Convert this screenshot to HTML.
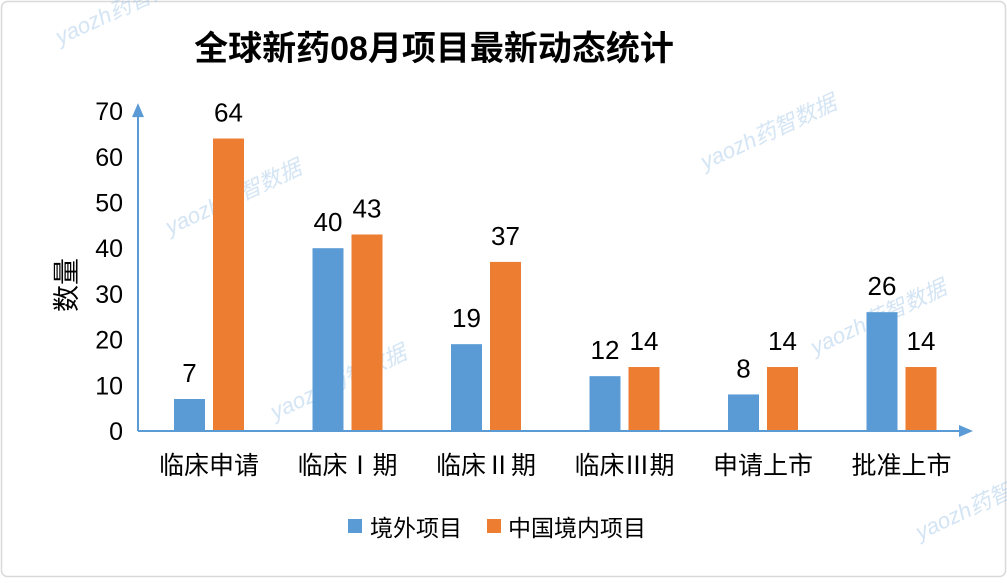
<!DOCTYPE html>
<html><head><meta charset="utf-8">
<style>
html,body{margin:0;padding:0;background:#fff;}
body{width:1007px;height:578px;overflow:hidden;font-family:"Liberation Sans","Noto Sans CJK SC",sans-serif;}
</style></head>
<body>
<svg id="chart" width="1007" height="578" xmlns="http://www.w3.org/2000/svg" font-family="Liberation Sans, Noto Sans CJK SC, sans-serif">
<rect x="1.5" y="1.5" width="1004" height="575" rx="6" fill="#fff" stroke="#d9d9d9" stroke-width="1.5"/>
<g id="wm" fill="#9dc3e6" opacity="0.45" font-size="22" font-style="italic">
<text transform="translate(60,45) rotate(-25)">yaozh药智数据</text>
<text transform="translate(170,235) rotate(-25)">yaozh药智数据</text>
<text transform="translate(705,170) rotate(-25)">yaozh药智数据</text>
<text transform="translate(275,420) rotate(-25)">yaozh药智数据</text>
<text transform="translate(815,355) rotate(-25)">yaozh药智数据</text>
<text transform="translate(920,540) rotate(-25)">yaozh药智数据</text>
</g>
<text x="434" y="60" text-anchor="middle" font-size="34" font-weight="bold" fill="#000">全球新药08月项目最新动态统计</text>
<text transform="translate(76,285) rotate(-90)" text-anchor="middle" font-size="27" fill="#000">数量</text>
<g id="plot"></g>
<g font-size="23" fill="#000">
<rect x="348" y="519" width="14" height="14" fill="#5B9BD5"/>
<text x="370" y="536">境外项目</text>
<rect x="487" y="519" width="14" height="14" fill="#ED7D31"/>
<text x="508" y="536">中国境内项目</text>
</g>
</svg>
<script>
const categories = ["临床申请","临床Ⅰ期","临床Ⅱ期","临床Ⅲ期","申请上市","批准上市"];
const overseas = [7,40,19,12,8,26];
const china = [64,43,37,14,14,14];
const yTicks = [0,10,20,30,40,50,60,70];

const NS="http://www.w3.org/2000/svg";
const g=document.getElementById('plot');
const x0=138, y0=431, yPer=4.57, xEnd=965, step=138.5, firstC=209;
const yS=v=>y0-v*yPer;
const xC=i=>firstC+i*step;
function mk(t,a){const e=document.createElementNS(NS,t);for(const k in a)e.setAttribute(k,a[k]);g.appendChild(e);return e;}

yTicks.forEach(v=>{
  const t=mk('text',{x:x0-15,y:yS(v)+9,'text-anchor':'end','font-size':'25',fill:'#000'});
  
  
  t.textContent=v;
});
categories.forEach((c,i)=>{
  const t=mk('text',{x:xC(i),y:y0+43,'text-anchor':'middle','font-size':'25',fill:'#000'});
  
  
  t.textContent=c;
  [[overseas,'#5B9BD5',-35,'bar-overseas'],[china,'#ED7D31',4,'bar-china']].forEach(([arr,col,off,nm])=>{
    const v=arr[i];
    const r=mk('rect',{x:xC(i)+off,y:yS(v),width:31,height:v*yPer,fill:col});
    
    
    const l=mk('text',{x:xC(i)+off+15.5,y:yS(v)-17,'text-anchor':'middle','font-size':'26',fill:'#000'});
    
    
    l.textContent=v;
  });
});
const ya=mk('line',{x1:x0,y1:y0,x2:x0,y2:yS(70)+2,stroke:'#5B9BD5','stroke-width':2});


const yh=mk('polygon',{points:`${x0-6},${yS(70)+6} ${x0+6},${yS(70)+6} ${x0},${yS(70)-8}`,fill:'#5B9BD5'});


const xa=mk('line',{x1:x0,y1:y0,x2:xEnd-2,y2:y0,stroke:'#5B9BD5','stroke-width':2});


const xh=mk('polygon',{points:`${xEnd-6},${y0-6} ${xEnd-6},${y0+6} ${xEnd+8},${y0}`,fill:'#5B9BD5'});


</script>
</body></html>
